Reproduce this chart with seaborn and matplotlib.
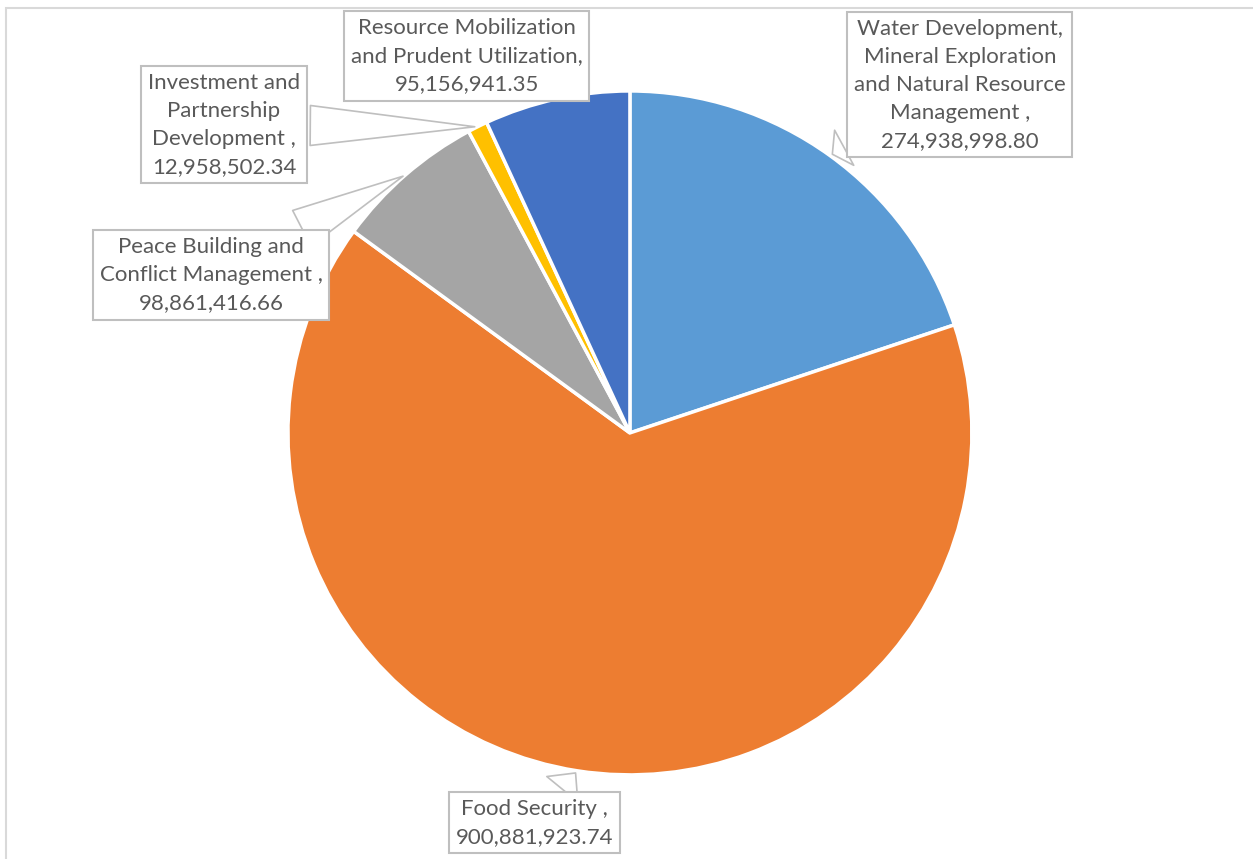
import matplotlib
matplotlib.use("Agg")
import matplotlib.pyplot as plt
from matplotlib.patches import Rectangle
import numpy as np
import seaborn as sns

# Budget allocation by programme (values as printed on the data labels)
CATEGORIES = [
    "Water Development,\nMineral Exploration\nand Natural Resource\nManagement ,",
    "Food Security ,",
    "Peace Building and\nConflict Management ,",
    "Investment and\nPartnership\nDevelopment ,",
    "Resource Mobilization\nand Prudent Utilization,",
]
VALUES = [274938998.80, 900881923.74, 98861416.66, 12958502.34, 95156941.35]
COLORS = ["#5B9BD5", "#ED7D31", "#A5A5A5", "#FFC000", "#4472C4"]

# label box centres, in pie-radius units relative to the pie centre
LABEL_POS = [(0.965, 1.018), (-0.278, -1.140), (-1.225, 0.462),
             (-1.187, 0.901), (-0.477, 1.102)]
SHOW_LEADER = [True, True, True, True, False]

TEXT_GREY = "#595959"
BOX_GREY = "#BFBFBF"


def main() -> None:
    sns.set_theme(style="white")
    plt.rcParams["font.family"] = ["Lato", "DejaVu Sans"]

    fig = plt.figure(figsize=(12.53, 8.59), dpi=100)
    ax = fig.add_axes([0, 0, 1, 1])

    wedges, _ = ax.pie(
        VALUES, colors=sns.color_palette(COLORS), startangle=90,
        counterclock=False, radius=1.0,
        wedgeprops=dict(edgecolor="white", linewidth=2.5),
    )
    ax.set_xlim(-1.842, 1.822)
    ax.set_ylim(-1.246, 1.266)
    ax.axis("off")

    for w, name, val, pos, leader in zip(wedges, CATEGORIES, VALUES,
                                         LABEL_POS, SHOW_LEADER):
        mid = np.deg2rad((w.theta1 + w.theta2) / 2)
        tip = (np.cos(mid) * w.r, np.sin(mid) * w.r)
        label = f"{name}\n{val:,.2f}"
        arrow = None
        if leader:
            arrow = dict(arrowstyle="wedge,tail_width=1.8,shrink_factor=0.5",
                         fc="white", ec=BOX_GREY, lw=1.2)
        ax.annotate(
            label, xy=tip, xytext=pos, ha="center", va="center",
            fontsize=16, color=TEXT_GREY, linespacing=1.5,
            bbox=dict(boxstyle="square,pad=0.3", fc="white", ec=BOX_GREY,
                      lw=1.5),
            arrowprops=arrow,
        )

    # light chart-area border (cropped at right and bottom)
    fig.add_artist(Rectangle((6 / 1253, -0.1), 1.2, 0.1 + (1 - 8 / 859),
                             transform=fig.transFigure, fill=False,
                             ec="#D9D9D9", lw=1.5))

    fig.savefig("out.png", dpi=100)
    plt.close(fig)


if __name__ == "__main__":
    main()
